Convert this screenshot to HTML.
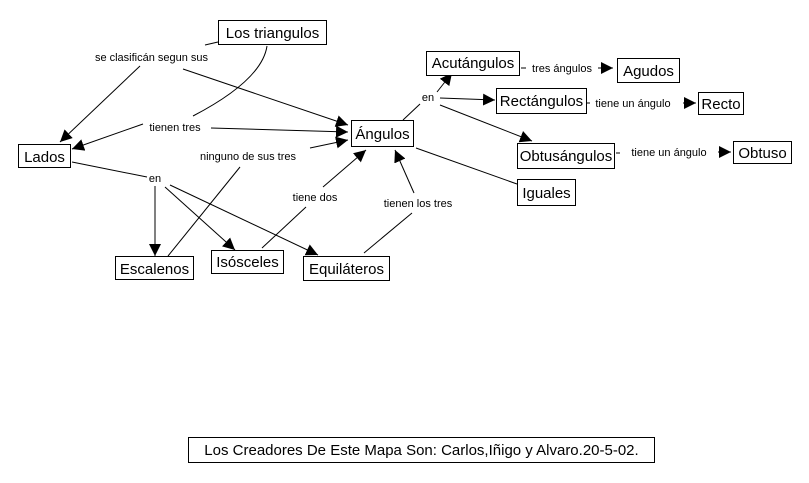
<!DOCTYPE html>
<html><head><meta charset="utf-8"><style>
html,body{margin:0;padding:0;background:#fff;}
svg{display:block;}
.n{font-family:"Liberation Sans",sans-serif;font-size:15px;fill:#000;}
.l{font-family:"Liberation Sans",sans-serif;font-size:11px;fill:#000;}
rect{fill:#fff;stroke:#000;stroke-width:1;}
line,path{stroke:#000;stroke-width:1;fill:none;}
</style></head><body>
<svg width="809" height="483" viewBox="0 0 809 483" xmlns="http://www.w3.org/2000/svg">
<defs><marker id="a" viewBox="0 0 12 12" refX="12" refY="6" markerWidth="12" markerHeight="12" markerUnits="userSpaceOnUse" orient="auto"><path d="M0,0 L12,6 L0,12 z" style="fill:#000;stroke:none"/></marker></defs>
<g>
<line x1="218" y1="42" x2="205" y2="45"/>
<line x1="140" y1="66" x2="60" y2="142" marker-end="url(#a)"/>
<line x1="183" y1="69" x2="348" y2="125" marker-end="url(#a)"/>
<path d="M267,46 Q262,80 193,116"/>
<line x1="143" y1="124" x2="72" y2="149" marker-end="url(#a)"/>
<line x1="211" y1="128" x2="348" y2="132" marker-end="url(#a)"/>
<line x1="310" y1="148" x2="348" y2="140" marker-end="url(#a)"/>
<line x1="168" y1="256" x2="240" y2="167"/>
<line x1="72" y1="162" x2="147" y2="177"/>
<line x1="155" y1="186" x2="155" y2="256" marker-end="url(#a)"/>
<line x1="165" y1="187" x2="235" y2="250" marker-end="url(#a)"/>
<line x1="170" y1="185" x2="318" y2="255" marker-end="url(#a)"/>
<line x1="262" y1="248" x2="306" y2="207"/>
<line x1="323" y1="187" x2="366" y2="150" marker-end="url(#a)"/>
<line x1="364" y1="253" x2="412" y2="213"/>
<line x1="414" y1="193" x2="395" y2="150" marker-end="url(#a)"/>
<line x1="403" y1="120" x2="420" y2="104"/>
<line x1="437" y1="92" x2="452" y2="73" marker-end="url(#a)"/>
<line x1="440" y1="98" x2="495" y2="100" marker-end="url(#a)"/>
<line x1="440" y1="105" x2="532" y2="141" marker-end="url(#a)"/>
<line x1="416" y1="148" x2="517" y2="184"/>
<line x1="521" y1="68" x2="526" y2="68"/>
<line x1="598" y1="68" x2="613" y2="68" marker-end="url(#a)"/>
<line x1="587" y1="103" x2="590" y2="103"/>
<line x1="683" y1="103" x2="696" y2="103" marker-end="url(#a)"/>
<line x1="616" y1="153" x2="620" y2="153"/>
<line x1="718" y1="152" x2="731" y2="152" marker-end="url(#a)"/>
</g>
<rect x="218.5" y="20.5" width="108" height="24"/><text class="n" x="272.5" y="38" text-anchor="middle">Los triangulos</text>
<rect x="18.5" y="144.5" width="52" height="23"/><text class="n" x="44.5" y="162" text-anchor="middle">Lados</text>
<rect x="351.5" y="120.5" width="62" height="26"/><text class="n" x="382.5" y="139" text-anchor="middle">Ángulos</text>
<rect x="115.5" y="256.5" width="78" height="23"/><text class="n" x="154.5" y="274" text-anchor="middle">Escalenos</text>
<rect x="211.5" y="250.5" width="72" height="23"/><text class="n" x="247.5" y="267" text-anchor="middle">Isósceles</text>
<rect x="303.5" y="256.5" width="86" height="24"/><text class="n" x="346.5" y="274" text-anchor="middle">Equiláteros</text>
<rect x="426.5" y="51.5" width="93" height="24"/><text class="n" x="473" y="68" text-anchor="middle">Acutángulos</text>
<rect x="617.5" y="58.5" width="62" height="24"/><text class="n" x="648.5" y="76" text-anchor="middle">Agudos</text>
<rect x="496.5" y="88.5" width="90" height="25"/><text class="n" x="541.5" y="106" text-anchor="middle">Rectángulos</text>
<rect x="698.5" y="92.5" width="45" height="22"/><text class="n" x="721" y="109" text-anchor="middle">Recto</text>
<rect x="517.5" y="143.5" width="97" height="25"/><text class="n" x="566" y="161" text-anchor="middle">Obtusángulos</text>
<rect x="733.5" y="141.5" width="58" height="22"/><text class="n" x="762.5" y="158" text-anchor="middle">Obtuso</text>
<rect x="517.5" y="179.5" width="58" height="26"/><text class="n" x="546.5" y="198" text-anchor="middle">Iguales</text>
<rect x="188.5" y="437.5" width="466" height="25"/><text class="n" x="421.5" y="455" text-anchor="middle">Los Creadores De Este Mapa Son: Carlos,Iñigo y Alvaro.20-5-02.</text>
<text class="l" x="151.5" y="61" text-anchor="middle">se clasificán segun sus</text>
<text class="l" x="175" y="131" text-anchor="middle">tienen tres</text>
<text class="l" x="248" y="160" text-anchor="middle">ninguno de sus tres</text>
<text class="l" x="155" y="182" text-anchor="middle">en</text>
<text class="l" x="315" y="201" text-anchor="middle">tiene dos</text>
<text class="l" x="418" y="207" text-anchor="middle">tienen los tres</text>
<text class="l" x="428" y="101" text-anchor="middle">en</text>
<text class="l" x="562" y="72" text-anchor="middle">tres ángulos</text>
<text class="l" x="633" y="107" text-anchor="middle">tiene un ángulo</text>
<text class="l" x="669" y="156" text-anchor="middle">tiene un ángulo</text>
</svg>
</body></html>
